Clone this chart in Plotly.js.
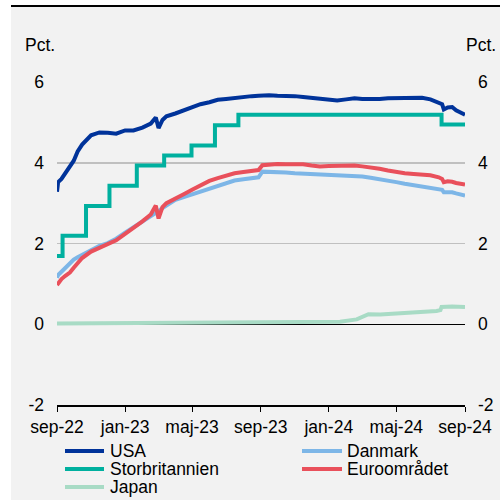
<!DOCTYPE html>
<html><head><meta charset="utf-8">
<script src="https://cdn.plot.ly/plotly-3.0.1.min.js"></script>
<style>
html,body{margin:0;padding:0;background:#fff;width:500px;height:500px;overflow:hidden}
#topline{position:absolute;left:11px;top:5px;width:489px;height:2px;background:#000}
#chart{position:absolute;left:11px;top:7px;width:489px;height:493px;background:#f2f2f2}
</style></head><body>
<div id="topline"></div><div id="chart"></div>
<script>
// ---- data ----
const dates = ["2022-09-12","2022-09-14","2022-09-20","2022-09-27","2022-10-05","2022-10-12","2022-10-19","2022-10-27",
"2022-11-12","2022-11-27","2022-12-12","2022-12-27","2023-01-12","2023-01-27","2023-02-12","2023-02-27",
"2023-03-08","2023-03-13","2023-03-20","2023-03-27","2023-04-12","2023-04-27","2023-05-12","2023-05-27",
"2023-06-12","2023-06-27","2023-07-12","2023-07-27","2023-08-12","2023-08-27","2023-09-08","2023-09-15",
"2023-09-27","2023-10-12","2023-10-27","2023-11-12","2023-11-27","2023-12-12","2023-12-27","2024-01-12",
"2024-01-27","2024-02-12","2024-02-27","2024-03-12","2024-03-27","2024-04-12","2024-04-27","2024-05-12",
"2024-05-27","2024-06-12","2024-06-27","2024-07-12","2024-07-27","2024-08-02","2024-08-05","2024-08-12",
"2024-08-20","2024-08-27","2024-09-12"];

const usa = [3.28,3.52,3.60,3.75,3.92,4.05,4.28,4.45,
4.68,4.75,4.74,4.72,4.80,4.80,4.87,4.97,
5.12,4.86,5.06,5.15,5.22,5.30,5.38,5.45,
5.50,5.56,5.58,5.61,5.64,5.65,5.66,5.67,
5.67,5.66,5.66,5.65,5.63,5.61,5.60,5.58,
5.54,5.57,5.60,5.58,5.57,5.58,5.60,5.60,
5.61,5.61,5.61,5.57,5.49,5.45,5.32,5.37,
5.38,5.30,5.19];

const danmark = [1.15,1.22,1.30,1.40,1.52,1.60,1.66,1.72,
1.85,1.94,2.01,2.12,2.27,2.40,2.53,2.67,
2.76,2.80,2.88,2.95,3.08,3.15,3.22,3.29,
3.36,3.43,3.50,3.56,3.59,3.61,3.64,3.78,
3.78,3.77,3.76,3.74,3.73,3.72,3.71,3.70,
3.70,3.70,3.68,3.66,3.63,3.60,3.56,3.52,
3.48,3.45,3.42,3.39,3.35,3.33,3.27,3.28,
3.27,3.24,3.19];

const euro = [0.97,1.02,1.12,1.20,1.28,1.40,1.52,1.64,
1.80,1.89,1.99,2.08,2.24,2.38,2.55,2.72,
2.94,2.62,2.90,3.00,3.10,3.22,3.33,3.45,
3.55,3.62,3.68,3.74,3.77,3.80,3.82,3.94,
3.96,3.97,3.96,3.97,3.96,3.93,3.91,3.92,
3.93,3.92,3.93,3.91,3.89,3.85,3.81,3.77,
3.74,3.72,3.70,3.69,3.64,3.60,3.52,3.54,
3.53,3.50,3.46];

const ukDates = ["2022-09-12","2022-09-22","2022-11-03","2022-12-15","2023-02-02","2023-03-23","2023-05-11","2023-06-22","2023-08-03","2024-08-01","2024-09-12"];
const uk = [1.69,2.19,2.93,3.43,3.93,4.18,4.43,4.93,5.19,4.95,4.95];

const japanDates = ["2022-09-12","2023-01-12","2023-06-01","2023-10-01","2024-01-12","2024-02-01","2024-03-02","2024-03-23","2024-04-13","2024-06-11","2024-07-23","2024-07-30","2024-08-01","2024-08-20","2024-09-12"];
const japan = [0.02,0.03,0.04,0.04,0.05,0.06,0.12,0.25,0.24,0.28,0.33,0.35,0.43,0.44,0.43];

const seriesNames = ["USA","Danmark","Storbritannien","Euroområdet","Japan"];
const tickDates = ["2022-09-12","2023-01-12","2023-05-12","2023-09-12","2024-01-12","2024-05-12","2024-09-12"];
const tickLabels = ["sep-22","jan-23","maj-23","sep-23","jan-24","maj-24","sep-24"];
const yTicks = [-2,0,2,4,6];
const unitLabel = "Pct.";

// ---- styles ----
const colors = {"USA":"#00339a","Danmark":"#7db6e7","Storbritannien":"#00b09f","Euroområdet":"#e9505b","Japan":"#a8dbc5"};
const FONT = "Liberation Sans, Arial, sans-serif";
const FS = 17.5;

const seriesX = {"USA":dates,"Danmark":dates,"Storbritannien":ukDates,"Euroområdet":dates,"Japan":japanDates};
const seriesY = {"USA":usa,"Danmark":danmark,"Storbritannien":uk,"Euroområdet":euro,"Japan":japan};

const traces = seriesNames.map(n => ({
  x: seriesX[n], y: seriesY[n], type: "scatter", mode: "lines", name: n,
  line: {color: colors[n], width: 4, shape: n === "Storbritannien" ? "hv" : "linear"},
  showlegend: false, hoverinfo: "skip"
}));
// invisible trace to activate the right-hand axis
traces.push({x: [dates[0]], y: [0], yaxis: "y2", mode: "markers", marker: {opacity: 0}, showlegend: false, hoverinfo: "skip"});

// manual legend (two columns)
const W = 489, H = 493, mL = 46, mR = 35, mT = 75, mB = 95;
const pw = W - mL - mR, ph = H - mT - mB;
const px2x = p => (p - mL) / pw;
const py2y = p => (H - mB - p) / ph;
const legCols = [{l0: 54, l1: 93, t: 97}, {l0: 291, l1: 331, t: 334}];
const legRows = [444, 462, 480];
const shapes = [], annotations = [];
seriesNames.forEach((n, i) => {
  const c = legCols[i % 2], r = legRows[Math.floor(i / 2)];
  shapes.push({type: "line", xref: "paper", yref: "paper", x0: px2x(c.l0), x1: px2x(c.l1), y0: py2y(r), y1: py2y(r),
    line: {color: colors[n], width: 4}});
  annotations.push({xref: "paper", yref: "paper", x: px2x(c.t), y: py2y(r), xanchor: "left", yanchor: "middle",
    text: n, showarrow: false, font: {family: FONT, size: FS, color: "#000"}});
});
annotations.push({xref: "paper", yref: "paper", x: px2x(29), y: py2y(38), xanchor: "center", yanchor: "middle",
  text: unitLabel, showarrow: false, font: {family: FONT, size: FS, color: "#000"}});
annotations.push({xref: "paper", yref: "paper", x: px2x(470), y: py2y(38), xanchor: "center", yanchor: "middle",
  text: unitLabel, showarrow: false, font: {family: FONT, size: FS, color: "#000"}});

const layout = {
  width: W, height: H,
  margin: {l: mL, r: mR, t: mT, b: mB},
  paper_bgcolor: "#f2f2f2", plot_bgcolor: "#f2f2f2",
  font: {family: FONT, size: FS, color: "#000"},
  showlegend: false,
  xaxis: {type: "date", range: [tickDates[0], tickDates[tickDates.length - 1]],
    tickvals: tickDates, ticktext: tickLabels, ticks: "outside", ticklen: 5, tickcolor: "#000", tickwidth: 1,
    showline: true, linecolor: "#000", linewidth: 1.5, showgrid: false, zeroline: false, fixedrange: true},
  yaxis: {range: [-2, 6], tickvals: yTicks, ticktext: yTicks.map(String), ticks: "", ticklabelstandoff: 12,
    showgrid: true, gridcolor: "#c0c0c0", gridwidth: 1.5, zeroline: true, zerolinecolor: "#000", zerolinewidth: 1.5,
    showline: false, fixedrange: true},
  yaxis2: {range: [-2, 6], overlaying: "y", side: "right", tickvals: yTicks, ticktext: yTicks.map(String), ticks: "",
    ticklabelstandoff: 12, showgrid: false, zeroline: false, showline: false, fixedrange: true},
  shapes: shapes, annotations: annotations
};

Plotly.newPlot("chart", traces, layout, {staticPlot: true, displayModeBar: false});
</script>
</body></html>
